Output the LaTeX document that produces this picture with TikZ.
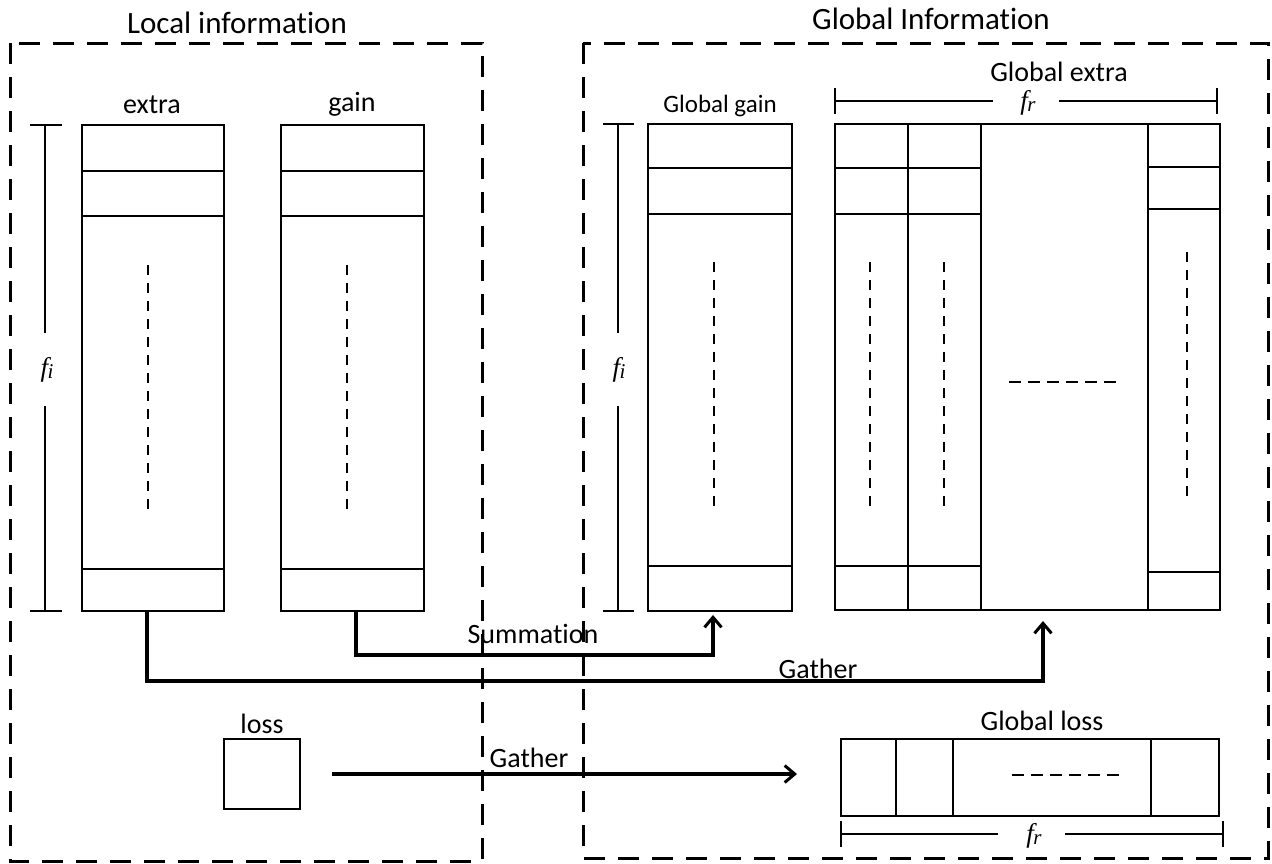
\documentclass[tikz,border=0pt]{standalone}
\usepackage{fontspec}
\setmainfont{Carlito}[Ligatures=NoCommon]
\newfontfamily\tnr{Liberation Serif}
\usetikzlibrary{arrows.meta}
% dimension label: italic f with a smaller index letter
\newcommand\dimlabel[1]{{\tnr\itshape\fontsize{27}{27}\selectfont f\kern-0.5pt\raisebox{-2pt}{\fontsize{21}{21}\selectfont #1}}}
\begin{document}
\begin{tikzpicture}[x=1pt,y=-1pt,
  region/.style={line width=3pt, dash pattern=on 21pt off 13pt},
  cell/.style={draw, line width=2.8pt, inner sep=0pt, outer sep=0pt},
  rule/.style={line width=2.8pt},
  dots/.style={line width=2.8pt, dash pattern=on 10pt off 8pt},
  hdots/.style={line width=2.8pt, dash pattern=on 12pt off 7pt},
  dim/.style={line width=2.5pt},
  arr/.style={line width=3.4pt, -{Straight Barb[length=10pt, width=17pt, line width=3pt]}},
  title/.style={font=\fontsize{31}{36}\selectfont, inner sep=0pt, anchor=base},
  lbl/.style={font=\fontsize{28}{32}\selectfont, inner sep=0pt, anchor=base},
  slbl/.style={font=\fontsize{25}{30}\selectfont, inner sep=0pt, anchor=base}]
\useasboundingbox (0,0) rectangle (1272,863);

% ---- the two regions ----
\draw[region] (10,43) rectangle (482,861);
\draw[region] (583,43) rectangle (1268,858);
\node[title] (tlocal) at (237,33) {Local information};
\node[title] (tglobal) at (931,29) {Global Information};

% ---- local columns ----
\node[cell, minimum width=142pt, minimum height=486pt] (extra) at (153,368) {};
\node[cell, minimum width=143pt, minimum height=486pt] (gain) at (352.5,368) {};
\foreach \y in {171,216,569} {
  \draw[rule] (extra.west |- 0,\y) -- (extra.east |- 0,\y);
  \draw[rule] (gain.west |- 0,\y) -- (gain.east |- 0,\y);
}
\draw[dots] (148,265) -- (148,510);
\draw[dots] (347,265) -- (347,510);
\node[lbl] (lextra) at (152,113) {extra};
\node[lbl] (lgain) at (352,111) {gain};

% local height dimension
\coordinate (fa1) at (45,125);
\coordinate (fa2) at (45,611);
\draw[dim] (fa1) -- (45,333) (45,406) -- (fa2);
\draw[dim] ([xshift=-15pt]fa1) -- ([xshift=17pt]fa1);
\draw[dim] ([xshift=-15pt]fa2) -- ([xshift=17pt]fa2);
\node[inner sep=0pt] (fil) at (47,370) {\dimlabel{i}};

% ---- global gain ----
\node[cell, minimum width=144pt, minimum height=487pt] (ggain) at (720,367.5) {};
\foreach \y in {168,214,566}
  \draw[rule] (ggain.west |- 0,\y) -- (ggain.east |- 0,\y);
\draw[dots] (714,262) -- (714,508);
\node[slbl] (lggain) at (720,112) {Global gain};

% global height dimension
\coordinate (fb1) at (618,124);
\coordinate (fb2) at (618,611);
\draw[dim] (fb1) -- (618,333) (618,406) -- (fb2);
\draw[dim] ([xshift=-15pt]fb1) -- ([xshift=16pt]fb1);
\draw[dim] ([xshift=-15pt]fb2) -- ([xshift=16pt]fb2);
\node[inner sep=0pt] (fig) at (619,370) {\dimlabel{i}};

% ---- global extra ----
\node[cell, minimum width=385pt, minimum height=486pt] (gext) at (1027.5,367) {};
\foreach \x in {908,981,1148}
  \draw[rule] (gext.north -| \x,0) -- (gext.south -| \x,0);
\foreach \y in {168,214,566}
  \draw[rule] (gext.west |- 0,\y) -- (981,\y);
\foreach \y in {167,209,572}
  \draw[rule] (1148,\y) -- (gext.east |- 0,\y);
\draw[dots] (870,262) -- (870,507);
\draw[dots] (944,262) -- (944,507);
\draw[dots] (1187,252) -- (1187,498);
\draw[hdots] (1009,382) -- (1119,382);
\node[lbl] (lgext) at (1059,81) {Global extra};

% width dimension above global extra
\coordinate (fc1) at (835,101);
\coordinate (fc2) at (1217,101);
\draw[dim] (fc1) -- (993,101) (1059,101) -- (fc2);
\draw[dim] ([yshift=13pt]fc1) -- ([yshift=-13pt]fc1);
\draw[dim] ([yshift=13pt]fc2) -- ([yshift=-13pt]fc2);
\node[inner sep=0pt] (frt) at (1028,103) {\dimlabel{r}};

% ---- loss ----
\node[cell, minimum width=76pt, minimum height=70pt] (loss) at (262,774) {};
\node[lbl] (lloss) at (262,733) {loss};

% ---- global loss ----
\node[cell, minimum width=378pt, minimum height=77pt] (gloss) at (1030,777.5) {};
\foreach \x in {896,953,1151}
  \draw[rule] (gloss.north -| \x,0) -- (gloss.south -| \x,0);
\draw[hdots] (1012,775) -- (1122,775);
\node[lbl] (lgloss) at (1042,730) {Global loss};

% width dimension below global loss
\coordinate (fd1) at (841,834);
\coordinate (fd2) at (1223,834);
\draw[dim] (fd1) -- (998,834) (1065,834) -- (fd2);
\draw[dim] ([yshift=13pt]fd1) -- ([yshift=-13pt]fd1);
\draw[dim] ([yshift=13pt]fd2) -- ([yshift=-13pt]fd2);
\node[inner sep=0pt] (frb) at (1034,836) {\dimlabel{r}};

% ---- connectors ----
\draw[arr, shorten >=4pt] ([xshift=3.5pt]gain.south) |- (713,655) -- ([xshift=-7pt]ggain.south);
\draw[arr, shorten >=11pt] ([xshift=-6pt]extra.south) |- (1043,681) -- ([xshift=15.5pt]gext.south);
\draw[arr, shorten <=32pt, shorten >=44pt] (loss.east) -- (gloss.west |- loss.east);
\node[lbl] (lsum) at (533,643) {Summation};
\node[lbl] (lgath1) at (818,678) {Gather};
\node[lbl] (lgath2) at (529,767) {Gather};
\end{tikzpicture}
\end{document}
